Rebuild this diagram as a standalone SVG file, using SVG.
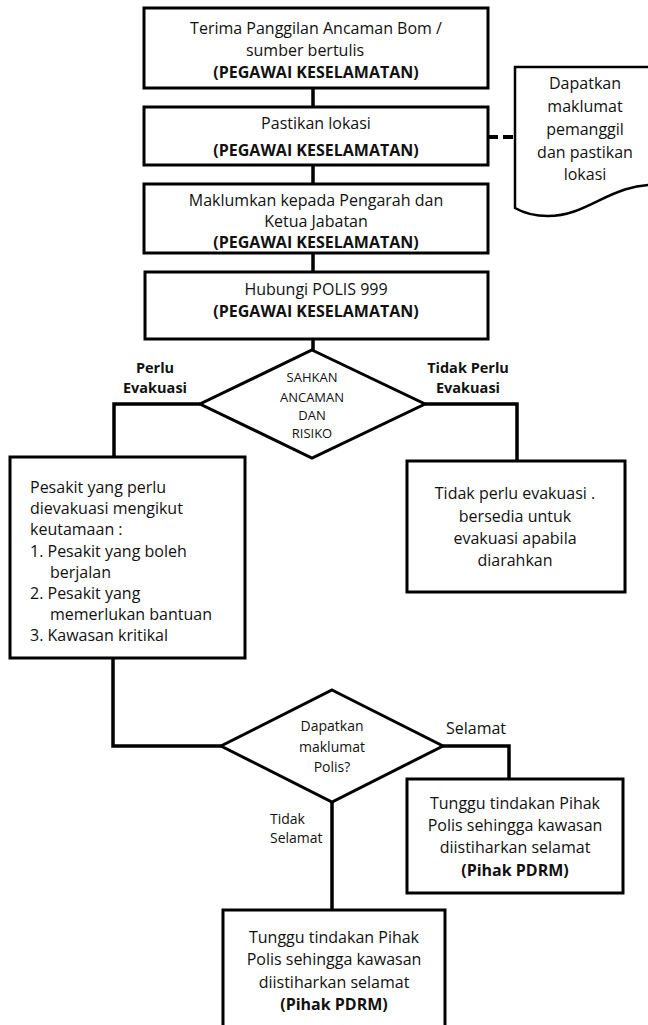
<svg xmlns="http://www.w3.org/2000/svg" width="648" height="1025" viewBox="0 0 648 1025">
<style>
.box{fill:#fff;stroke:#000;stroke-width:3}
.doc{fill:#fff;stroke:#000;stroke-width:2.5}
.ln{fill:none;stroke:#000;stroke-width:3.5}
.dash{fill:none;stroke:#000;stroke-width:4;stroke-dasharray:10 5}
text{font-family:"Open Sans","Liberation Sans",sans-serif;fill:#111;font-size:16px;text-anchor:middle}
.b{font-weight:bold}
.s{font-size:13px}
.m{font-size:14.5px}
.t{font-size:14px}
.l{text-anchor:start}
</style>
<rect width="648" height="1025" fill="#fff"/>
<g id="connectors">
<path class="ln" d="M313,88V107M313,165V184M313,253V272M313,339V350"/>
<path class="ln" d="M200,404H114V457"/>
<path class="ln" d="M425,404H517V461"/>
<path class="ln" d="M113,658V746H221"/>
<path class="ln" d="M443,746H509V779"/>
<path class="ln" d="M332,802V910"/>
<path class="dash" d="M488,137H515"/>
</g>
<g id="n1"><rect class="box" x="144" y="8" width="344" height="80"/>
<text x="316" y="34">Terima Panggilan Ancaman Bom /</text>
<text x="305" y="56">sumber bertulis</text>
<text x="316" y="78" class="b">(PEGAWAI KESELAMATAN)</text></g>
<g id="n2"><rect class="box" x="144" y="107" width="344" height="58"/>
<text x="316" y="129">Pastikan lokasi</text>
<text x="316" y="156" class="b">(PEGAWAI KESELAMATAN)</text></g>
<g id="doc"><path class="doc" d="M515,67H662V185C610,182 590,216 548,216C532,216 522,212 515,208Z"/>
<text x="585" y="89">Dapatkan</text>
<text x="585" y="112">maklumat</text>
<text x="585" y="135">pemanggil</text>
<text x="585" y="158">dan pastikan</text>
<text x="585" y="180">lokasi</text></g>
<g id="n3"><rect class="box" x="144" y="184" width="344" height="69"/>
<text x="316" y="206">Maklumkan kepada Pengarah dan</text>
<text x="316" y="227">Ketua Jabatan</text>
<text x="316" y="248" class="b">(PEGAWAI KESELAMATAN)</text></g>
<g id="n4"><rect class="box" x="145" y="272" width="343" height="67"/>
<text x="316" y="295">Hubungi POLIS 999</text>
<text x="316" y="317" class="b">(PEGAWAI KESELAMATAN)</text></g>
<g id="d1"><path class="box" d="M312,350L425,404L312,458L200,404Z"/>
<text x="312" y="382" class="s">SAHKAN</text>
<text x="312" y="402" class="s">ANCAMAN</text>
<text x="312" y="420" class="s">DAN</text>
<text x="312" y="438" class="s">RISIKO</text></g>
<g id="lbl1"><text x="155" y="373" class="b m">Perlu</text>
<text x="155" y="393" class="b m">Evakuasi</text>
<text x="468" y="373" class="b m">Tidak Perlu</text>
<text x="468" y="393" class="b m">Evakuasi</text></g>
<g id="n5"><rect class="box" x="10" y="457" width="235" height="201"/>
<text x="30" y="493" class="l">Pesakit yang perlu</text>
<text x="30" y="514" class="l">dievakuasi mengikut</text>
<text x="30" y="535" class="l">keutamaan :</text>
<text x="30" y="557" class="l">1. Pesakit yang boleh</text>
<text x="50" y="578" class="l">berjalan</text>
<text x="30" y="599" class="l">2. Pesakit yang</text>
<text x="50" y="620" class="l">memerlukan bantuan</text>
<text x="30" y="641" class="l">3. Kawasan kritikal</text></g>
<g id="n6"><rect class="box" x="407" y="461" width="218" height="131"/>
<text x="515" y="499">Tidak perlu evakuasi .</text>
<text x="515" y="522">bersedia untuk</text>
<text x="515" y="544">evakuasi apabila</text>
<text x="515" y="566">diarahkan</text></g>
<g id="d2"><path class="box" d="M332,690L443,746L332,802L221,746Z"/>
<text x="332" y="731" class="t">Dapatkan</text>
<text x="332" y="752" class="t">maklumat</text>
<text x="332" y="772" class="t">Polis?</text></g>
<g id="lbl2"><text x="476" y="734">Selamat</text>
<text x="270" y="824" class="l t">Tidak</text>
<text x="270" y="843" class="l t">Selamat</text></g>
<g id="n7"><rect class="box" x="407" y="779" width="216" height="114"/>
<text x="515" y="809">Tunggu tindakan Pihak</text>
<text x="515" y="831">Polis sehingga kawasan</text>
<text x="515" y="853">diistiharkan selamat</text>
<text x="515" y="876" class="b">(Pihak PDRM)</text></g>
<g id="n8"><rect class="box" x="223" y="910" width="222" height="130"/>
<text x="334" y="943">Tunggu tindakan Pihak</text>
<text x="334" y="965">Polis sehingga kawasan</text>
<text x="334" y="988">diistiharkan selamat</text>
<text x="334" y="1010" class="b">(Pihak PDRM)</text></g>
</svg>
